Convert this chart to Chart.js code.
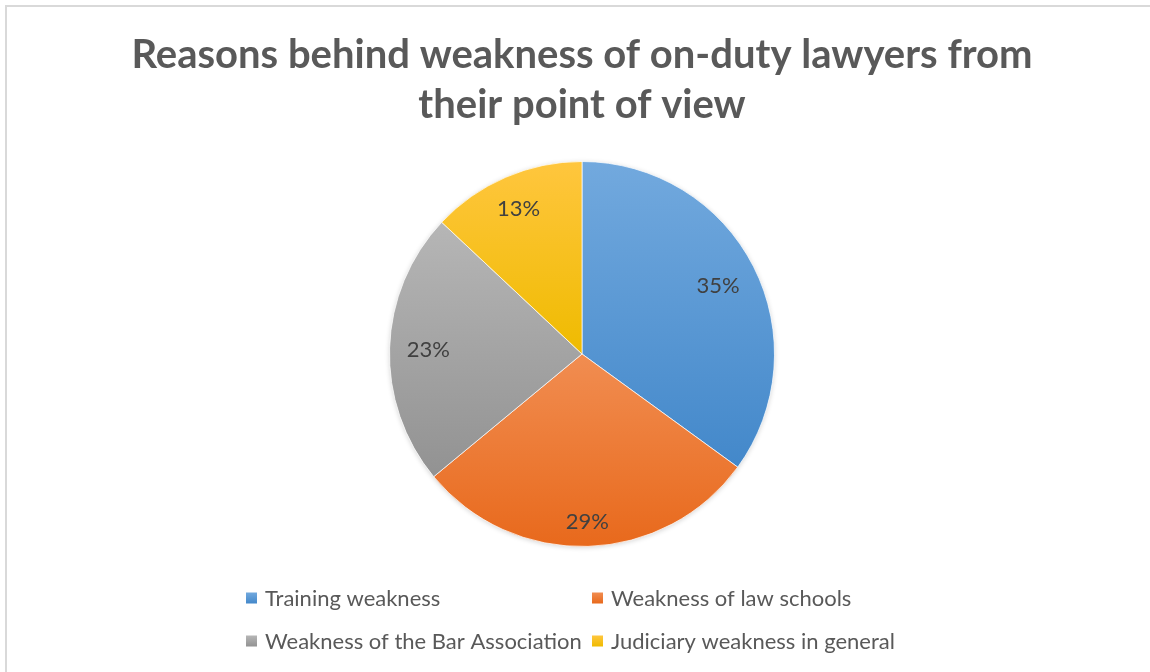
<!DOCTYPE html>
<html>
<head>
<meta charset="utf-8">
<script src="https://cdn.jsdelivr.net/npm/chart.js@4/dist/chart.umd.min.js"></script>
<style>
  html, body { margin: 0; padding: 0; background: #fff; width: 1150px; height: 672px; overflow: hidden; }
  #frame { position: absolute; left: 5px; top: 5px; width: 1170px; height: 690px;
           border-left: 2px solid #d9d9d9; border-top: 2px solid #d9d9d9; }
  #frame canvas { position: absolute; left: 0; top: 0; }
</style>
</head>
<body>
<div id="frame"><canvas id="c" width="1150" height="665"></canvas></div>
<script>
// Survey answers: share of respondents per reason (percent)
const categories = [
  'Training weakness',
  'Weakness of law schools',
  'Weakness of the Bar Association',
  'Judiciary weakness in general'
];
const shares = [35, 29, 23, 13];
const titleLines = ['Reasons behind weakness of on-duty lawyers from', 'their point of view'];

// Each slice is shaded from a lighter top to a darker bottom
const topColors    = ['#72a9de', '#f18d51', '#b6b6b6', '#ffc63e'];
const bottomColors = ['#4388ca', '#e8691c', '#929292', '#efbb00'];

const FONT = 'Lato, "Open Sans", sans-serif';

// Vertical extent of one arc, used for its gradient
function arcYRange(arc) {
  const { y, startAngle, endAngle, outerRadius } = arc;
  let lo = y, hi = y;
  for (let a = startAngle; a <= endAngle; a += 0.005) {
    const py = y + outerRadius * Math.sin(a);
    lo = Math.min(lo, py); hi = Math.max(hi, py);
  }
  const pe = y + outerRadius * Math.sin(endAngle);
  return [Math.min(lo, pe), Math.max(hi, pe)];
}

const sliceShading = {
  id: 'sliceShading',
  beforeDatasetsDraw(chart) {
    const ctx = chart.ctx;
    const meta = chart.getDatasetMeta(0);
    // soft outer shadow under the pie
    const a0 = meta.data[0];
    if (a0) {
      ctx.save();
      ctx.shadowColor = 'rgba(0,0,0,0.18)';
      ctx.shadowBlur = 5;
      ctx.shadowOffsetY = 1;
      ctx.fillStyle = '#ffffff';
      ctx.beginPath();
      ctx.arc(a0.x, a0.y, a0.outerRadius, 0, Math.PI * 2);
      ctx.fill();
      ctx.restore();
    }
    meta.data.forEach((arc, i) => {
      const [y0, y1] = arcYRange(arc);
      const g = ctx.createLinearGradient(0, y0, 0, y1);
      g.addColorStop(0, topColors[i]);
      g.addColorStop(1, bottomColors[i]);
      arc.options = Object.assign({}, arc.options, { backgroundColor: g });
    });
  }
};

const sliceLabels = {
  id: 'sliceLabels',
  afterDatasetsDraw(chart) {
    const ctx = chart.ctx;
    const meta = chart.getDatasetMeta(0);
    ctx.save();
    ctx.font = '22px ' + FONT;
    ctx.fillStyle = '#404040';
    ctx.textAlign = 'center';
    ctx.textBaseline = 'middle';
    meta.data.forEach((arc, i) => {
      const text = shares[i] + '%';
      const w = ctx.measureText(text).width;
      const h = 16;
      const mid = (arc.startAngle + arc.endAngle) / 2;
      const dx = Math.cos(mid), dy = Math.sin(mid);
      const dist = arc.outerRadius - 17 - (w / 2 * Math.abs(dx) + h / 2 * Math.abs(dy));
      ctx.fillText(text, arc.x + dx * dist, arc.y + dy * dist + 1);
    });
    ctx.restore();
  }
};

// Two-column legend under the pie
const gridLegend = {
  id: 'gridLegend',
  afterDraw(chart) {
    const ctx = chart.ctx;
    const colX = [239, 585];
    const rowY = [591, 634];
    const box = 11;
    ctx.save();
    ctx.font = '22px ' + FONT;
    ctx.textBaseline = 'middle';
    ctx.textAlign = 'left';
    categories.forEach((label, i) => {
      const x = colX[i % 2], y = rowY[Math.floor(i / 2)];
      const g = ctx.createLinearGradient(0, y - box / 2, 0, y + box / 2);
      g.addColorStop(0, topColors[i]);
      g.addColorStop(1, bottomColors[i]);
      ctx.fillStyle = g;
      ctx.fillRect(x, y - box / 2, box, box);
      ctx.fillStyle = '#595959';
      ctx.fillText(label, x + box + 8, y + 1);
    });
    ctx.restore();
  }
};

new Chart(document.getElementById('c'), {
  type: 'pie',
  data: {
    labels: categories,
    datasets: [{
      data: shares,
      backgroundColor: topColors,
      borderColor: 'rgba(255,255,255,0.7)',
      borderWidth: 1
    }]
  },
  options: {
    responsive: false,
    animation: false,
    layout: { padding: { top: 0, bottom: 125, left: 0, right: 0 } },
    plugins: {
      legend: { display: false },
      tooltip: { enabled: false },
      title: {
        display: true,
        text: titleLines,
        color: '#595959',
        font: { family: FONT, size: 40, weight: 'bold', lineHeight: 50 / 40 },
        padding: { top: 23, bottom: 31 }
      }
    }
  },
  plugins: [sliceShading, sliceLabels, gridLegend]
});
</script>
</body>
</html>
